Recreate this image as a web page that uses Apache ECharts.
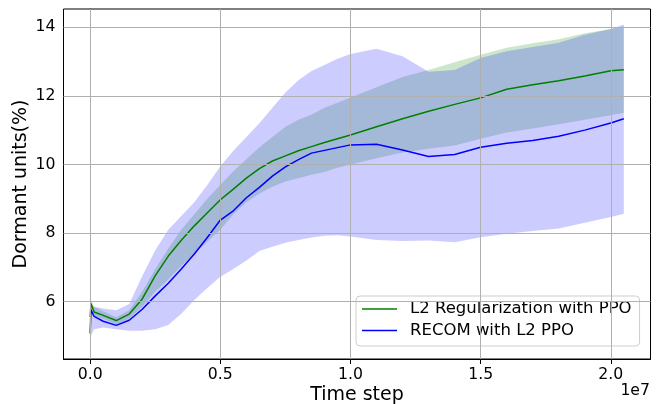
<!DOCTYPE html>
<html>
<head>
<meta charset="utf-8">
<script src="https://cdn.jsdelivr.net/npm/echarts@6/dist/echarts.min.js"></script>
<style>
  html, body { margin: 0; padding: 0; background: #fff; }
  #chart { width: 659px; height: 404px; }
</style>
</head>
<body>
<div id="chart"></div>
<script>
// time step, in units of 1e7
var steps = [0, 0.003, 0.015, 0.05, 0.1, 0.15, 0.2, 0.25, 0.3, 0.35, 0.4, 0.45, 0.5, 0.55, 0.6, 0.65, 0.7,
  0.75, 0.8, 0.85, 0.9, 0.95, 1.0, 1.1, 1.2, 1.3, 1.4, 1.5, 1.6, 1.7, 1.8, 1.9, 2.0, 2.05];

// L2 Regularization with PPO
var l2Mean = [5.55, 5.95, 5.70, 5.60, 5.45, 5.64, 6.08, 6.76, 7.33, 7.79, 8.21, 8.59, 8.97, 9.28, 9.60, 9.88, 10.10,
  10.25, 10.40, 10.52, 10.64, 10.75, 10.86, 11.10, 11.33, 11.55, 11.75, 11.94, 12.19, 12.32, 12.44, 12.58, 12.73, 12.76];
var l2Upper = [5.65, 6.07, 5.85, 5.72, 5.55, 5.75, 6.30, 6.95, 7.55, 8.10, 8.55, 9.00, 9.40, 9.80, 10.15, 10.50, 10.80,
  11.10, 11.30, 11.45, 11.65, 11.80, 11.95, 12.25, 12.55, 12.75, 12.98, 13.20, 13.40, 13.53, 13.65, 13.82, 13.95, 14.03];
var l2Lower = [5.45, 5.85, 5.58, 5.50, 5.33, 5.50, 5.85, 6.30, 6.65, 7.05, 7.40, 7.75, 8.10, 8.55, 8.90, 9.15, 9.35,
  9.50, 9.60, 9.70, 9.78, 9.90, 10.00, 10.18, 10.35, 10.46, 10.55, 10.75, 10.93, 11.05, 11.17, 11.30, 11.43, 11.51];

// RECOM with L2 PPO
var recomMean = [5.08, 5.76, 5.57, 5.43, 5.31, 5.46, 5.78, 6.17, 6.54, 6.95, 7.39, 7.87, 8.38, 8.65, 9.03, 9.33, 9.66,
  9.93, 10.14, 10.33, 10.41, 10.49, 10.57, 10.59, 10.42, 10.23, 10.29, 10.50, 10.62, 10.70, 10.82, 11.00, 11.21, 11.33];
var recomUpper = [5.75, 5.90, 5.85, 5.80, 5.75, 5.93, 6.75, 7.50, 8.10, 8.50, 8.90, 9.40, 9.95, 10.40, 10.80, 11.20, 11.65,
  12.10, 12.45, 12.72, 12.90, 13.08, 13.22, 13.37, 13.15, 12.70, 12.75, 13.10, 13.30, 13.42, 13.55, 13.78, 13.95, 14.08];
var recomLower = [4.79, 5.00, 5.20, 5.25, 5.20, 5.15, 5.15, 5.20, 5.32, 5.65, 6.05, 6.40, 6.73, 6.95, 7.20, 7.48, 7.60,
  7.72, 7.80, 7.87, 7.92, 7.94, 7.90, 7.80, 7.77, 7.78, 7.73, 7.88, 7.98, 8.06, 8.13, 8.30, 8.47, 8.56];

var xTicks = [0, 0.5, 1.0, 1.5, 2.0];
var yTicks = [6, 8, 10, 12, 14];

var font = "DejaVu Sans";

function pairs(ys) {
  return steps.map(function (s, i) { return [s, ys[i]]; });
}

// shaded band between lower and upper, one polygon
function band(lower, upper, color) {
  return {
    type: "custom",
    silent: true,
    z: 1,
    data: pairs(lower),
    renderItem: function (params, api) {
      if (params.dataIndex !== 0) return null;
      var pts = [];
      for (var i = 0; i < steps.length; i++) pts.push(api.coord([steps[i], upper[i]]));
      for (var j = steps.length - 1; j >= 0; j--) pts.push(api.coord([steps[j], lower[j]]));
      return { type: "polygon", shape: { points: pts }, style: { fill: color } };
    },
  };
}

var chart = echarts.init(document.getElementById("chart"));
chart.setOption({
  animation: false,
  textStyle: { fontFamily: font },
  grid: {
    left: 63.5, right: 8.5, top: 9, bottom: 45,
    outerBoundsMode: "none", containLabel: false,
    show: true, borderColor: "#000", borderWidth: 1,
  },
  legend: {
    orient: "vertical",
    left: 356,
    top: 296,
    padding: [4.5, 8, 7, 6],
    itemGap: 4.5,
    itemWidth: 35,
    itemHeight: 1.5,
    icon: "rect",
    backgroundColor: "rgba(255,255,255,0.8)",
    borderColor: "#cccccc",
    borderWidth: 1,
    borderRadius: 4,
    formatter: function (name) { return "{t|" + name + "}"; },
    textStyle: {
      fontSize: 16.5, color: "#000", fontFamily: font,
      rich: { t: { fontSize: 16.5, fontFamily: font, color: "#000", lineHeight: 19, padding: [0, 0, 0, 8] } },
    },
    data: ["L2 Regularization with PPO", "RECOM with L2 PPO"],
  },
  xAxis: {
    type: "value",
    min: -0.1025,
    max: 2.1525,
    name: "Time step",
    nameLocation: "middle",
    nameGap: 27,
    nameMoveOverlap: false,
    nameTextStyle: { fontSize: 19, color: "#000", fontFamily: font },
    axisLine: { show: true, onZero: false, lineStyle: { color: "#000", width: 1 } },
    axisTick: { show: true, length: 5, lineStyle: { color: "#000" }, customValues: xTicks },
    axisLabel: {
      fontSize: 15.7, color: "#000", margin: 8, customValues: xTicks,
      formatter: function (v) { return v.toFixed(1); },
    },
    splitLine: { show: false },
  },
  yAxis: {
    type: "value",
    min: 4.33,
    max: 14.53,
    name: "Dormant units(%)",
    nameLocation: "middle",
    nameGap: 33,
    nameMoveOverlap: false,
    nameTextStyle: { fontSize: 19, color: "#000", fontFamily: font },
    axisLine: { show: true, lineStyle: { color: "#000", width: 1 } },
    axisTick: { show: true, length: 5, lineStyle: { color: "#000" }, customValues: yTicks },
    axisLabel: { fontSize: 15.7, color: "#000", margin: 8, customValues: yTicks },
    splitLine: { show: false },
  },
  graphic: [
    { type: "text", right: 9, top: 383, style: { text: "1e7", fontSize: 15.7, fontFamily: font, fill: "#000" } },
  ],
  series: [
    band(l2Lower, l2Upper, "rgba(0,128,0,0.2)"),
    band(recomLower, recomUpper, "rgba(0,0,255,0.2)"),
    {
      // grid lines, above the bands and below the curves
      type: "line",
      data: [],
      z: 2,
      markLine: {
        silent: true,
        symbol: "none",
        animation: false,
        label: { show: false },
        lineStyle: { color: "#b0b0b0", width: 1, type: "solid" },
        data: xTicks.map(function (v) { return { xAxis: v }; })
          .concat(yTicks.map(function (v) { return { yAxis: v }; })),
      },
    },
    {
      name: "L2 Regularization with PPO",
      type: "line",
      z: 3,
      symbol: "none",
      data: pairs(l2Mean),
      lineStyle: { color: "#008000", width: 1.5 },
      itemStyle: { color: "#008000" },
    },
    {
      name: "RECOM with L2 PPO",
      type: "line",
      z: 3,
      symbol: "none",
      data: pairs(recomMean),
      lineStyle: { color: "#0000ff", width: 1.5 },
      itemStyle: { color: "#0000ff" },
    },
  ],
});
</script>
</body>
</html>
